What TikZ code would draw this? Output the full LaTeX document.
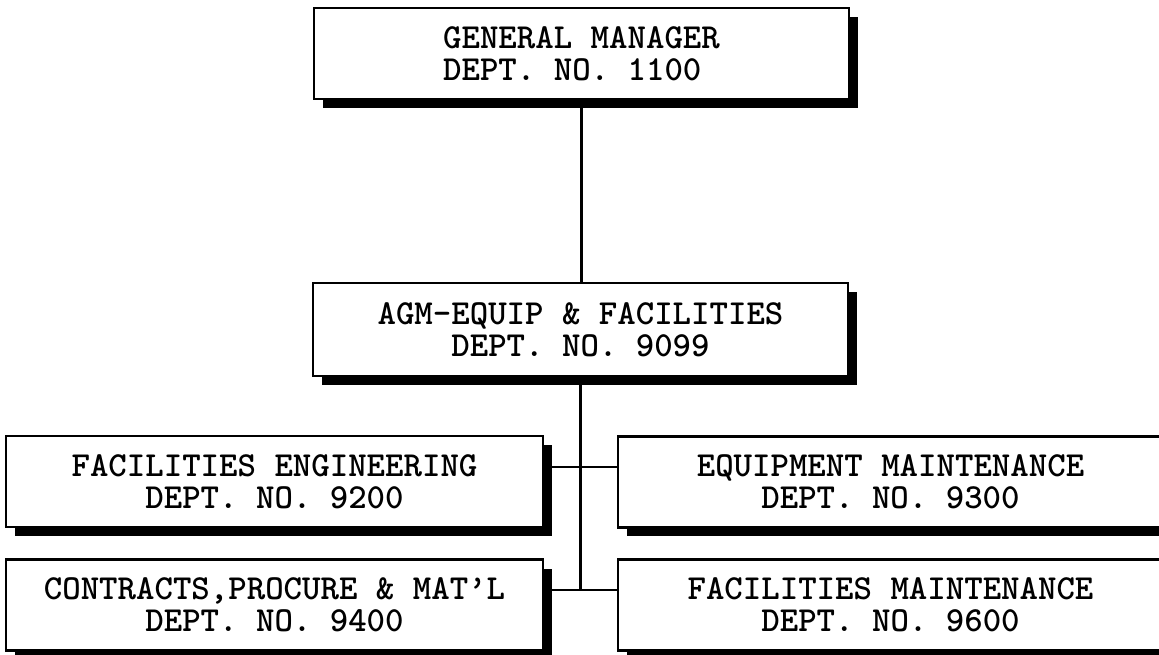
\documentclass[tikz,border=0pt]{standalone}
\usepackage{fontspec}
\usetikzlibrary{shadows}
\tikzset{
    dept/.style={rectangle,draw,line width=1.6pt,fill=white,align=center,
        minimum width=10.74cm,minimum height=1.82cm,inner sep=0pt,
        font=\ttfamily\bfseries\fontsize{20}{18}\selectfont,
        drop shadow={shadow xshift=0.18cm,shadow yshift=-0.18cm,fill=black,opacity=1}},
    link/.style={line width=1.2pt}
}
\begin{document}
\begin{tikzpicture}[x=0.02cm,y=-0.02cm]
\useasboundingbox (0,0) rectangle (1159,655);
                        % departments
                            \node[dept,align=left,minimum width=10.7cm] (gm) at (581.5,53.5) {GENERAL MANAGER\\DEPT. NO. 1100};
                            \node[dept,minimum width=10.7cm,minimum height=1.86cm] (agm) at (580.5,329.5) {AGM-EQUIP \& FACILITIES\\DEPT. NO. 9099};
                            \node[dept] (fe) at (274.5,481.5) {FACILITIES ENGINEERING\\DEPT. NO. 9200};
                            \node[dept] (cp) at (274.5,605) {CONTRACTS,PROCURE \& MAT’L\\DEPT. NO. 9400};
                            \node[dept,minimum width=10.9cm] (em) at (890.5,482) {EQUIPMENT MAINTENANCE\\DEPT. NO. 9300};
                            \node[dept,minimum width=10.9cm] (fm) at (890.5,605) {FACILITIES MAINTENANCE\\DEPT. NO. 9600};
                        % links
                            \coordinate (j1) at (581,467);
                            \coordinate (j2) at (581,590);
                        \draw[link] (gm.south) -- (gm.south |- agm.north);
                        \draw[link] (agm.south) -- (agm.south |- j2);
                        \draw[link] (fe.east |- j1) -- (em.west |- j1);
                        \draw[link] (cp.east |- j2) -- (fm.west |- j2);
                        \end{tikzpicture}
\end{document}
